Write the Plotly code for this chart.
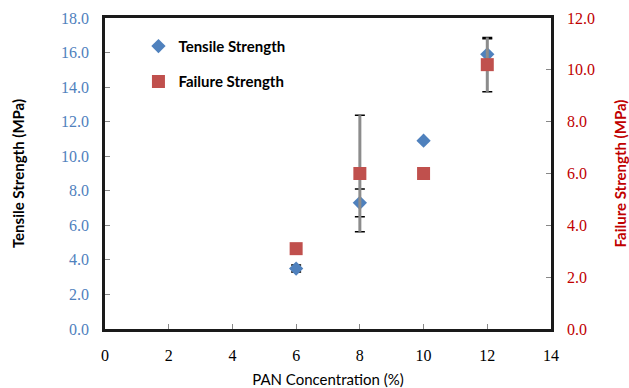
import plotly.graph_objects as go

pan_conc = [6, 8, 10, 12]
tensile = [3.5, 7.3, 10.9, 15.9]
tensile_err = [0.2, 0.8, 0.0, 0.9]
failure = [3.1, 6.0, 6.0, 10.2]
failure_err = [0.0, 2.25, 0.0, 1.05]

x_ticks = [0, 2, 4, 6, 8, 10, 12, 14]
y1_ticks = [0, 2, 4, 6, 8, 10, 12, 14, 16, 18]
y2_ticks = [0, 2, 4, 6, 8, 10, 12]

BLUE = "#4F81BD"
RED = "#C0504D"
serif = "Liberation Serif"
sans = "Lato"

fig = go.Figure()

# Tensile strength
fig.add_trace(go.Scatter(
    x=pan_conc, y=tensile, mode="markers", yaxis="y", name="<b>Tensile Strength</b>",
    legendgroup="a",
    marker=dict(symbol="diamond", size=11, color=BLUE),
    error_y=dict(type="data", array=tensile_err, color="#000000", thickness=1.5, width=5)))

# Failure error bars: black caps + grey stem
fig.add_trace(go.Scatter(
    x=pan_conc, y=failure, mode="markers", yaxis="y2",
    marker=dict(size=2, color="rgba(0,0,0,0)"),
    error_y=dict(type="data", array=failure_err, color="#000000", thickness=1.5, width=5),
    showlegend=False, hoverinfo="skip"))
fig.add_trace(go.Scatter(
    x=pan_conc, y=failure, mode="markers", yaxis="y2",
    marker=dict(size=2, color="rgba(0,0,0,0)"),
    error_y=dict(type="data", array=failure_err, color="#8c8c8c", thickness=3, width=0),
    showlegend=False, hoverinfo="skip"))

# Failure strength markers
fig.add_trace(go.Scatter(
    x=pan_conc, y=failure, mode="markers", yaxis="y2", name="<b>Failure Strength</b>",
    legendgroup="b",
    marker=dict(symbol="square", size=13, color=RED)))

fig.update_layout(
    width=629, height=388,
    margin=dict(l=105, r=78, t=18, b=59, autoexpand=False),
    paper_bgcolor="white", plot_bgcolor="white",
    showlegend=True,
    legend=dict(x=0.075, y=0.962, xanchor="left", yanchor="top",
                font=dict(family=sans, size=15, color="#000000"),
                bgcolor="rgba(0,0,0,0)", traceorder="grouped", tracegroupgap=13,
                itemwidth=30),
    xaxis=dict(range=[0, 14], tickvals=x_ticks, automargin=False,
               ticks="inside", ticklen=5, tickcolor="#888888", showgrid=False,
               zeroline=False, ticklabelstandoff=10,
               showline=True, linecolor="#1a1a1a", linewidth=2.5, mirror=True,
               tickfont=dict(family=serif, size=16, color="#000000"),
               title=dict(text="PAN Concentration (%)", standoff=12,
                          font=dict(family=sans, size=15, color="#000000"))),
    yaxis=dict(range=[0, 18], tickvals=y1_ticks, tickformat=".1f", automargin=False,
               ticks="inside", ticklen=5, tickcolor="#888888", showgrid=False,
               zeroline=False, ticklabelstandoff=10,
               showline=True, linecolor="#1a1a1a", linewidth=2.5, mirror=True,
               tickfont=dict(family=serif, size=16, color=BLUE),
               title=dict(text="<b>Tensile Strength (MPa)</b>", standoff=33,
                          font=dict(family=sans, size=15, color="#000000"))),
    yaxis2=dict(range=[0, 12], tickvals=y2_ticks, tickformat=".1f", automargin=False,
                overlaying="y", side="right", anchor="x",
                ticks="inside", ticklen=5, tickcolor="#888888", showgrid=False,
                zeroline=False, ticklabelstandoff=10,
                showline=True, linecolor="#1a1a1a", linewidth=2.5,
                tickfont=dict(family=serif, size=16, color="#C00000"),
                title=dict(text="<b>Failure Strength (MPa)</b>", standoff=22,
                           font=dict(family=sans, size=15, color="#C00000"))),
)

fig.write_html("out.html")
